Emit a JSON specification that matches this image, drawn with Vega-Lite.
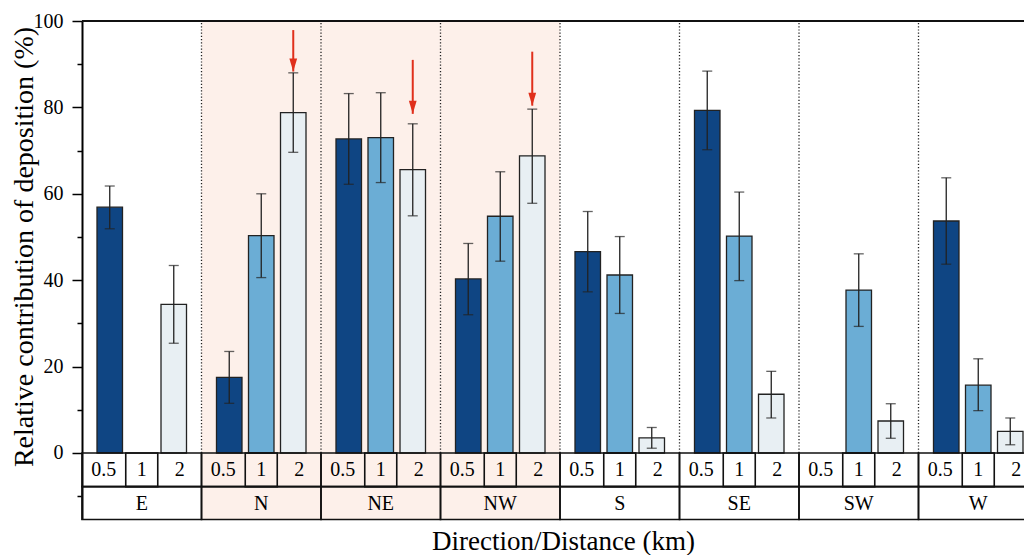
{
  "$schema": "https://vega.github.io/schema/vega-lite/v6.json",
  "width": 942,
  "height": 498.5,
  "autosize": {"type": "none"},
  "padding": {"left": 82, "top": 21, "right": 0, "bottom": 35.5},
  "background": "white",
  "view": {"stroke": null},
  "config": {"font": "Liberation Serif"},
  "datasets": {
    "bars": [
      {"direction": "E", "distance": "0.5", "value": 56.9, "lower": 51.9, "upper": 61.8},
      {"direction": "E", "distance": "1", "value": null, "lower": null, "upper": null},
      {"direction": "E", "distance": "2", "value": 34.4, "lower": 25.4, "upper": 43.4},
      {"direction": "N", "distance": "0.5", "value": 17.5, "lower": 11.5, "upper": 23.5},
      {"direction": "N", "distance": "1", "value": 50.3, "lower": 40.6, "upper": 60.0},
      {"direction": "N", "distance": "2", "value": 78.8, "lower": 69.6, "upper": 88.0},
      {"direction": "NE", "distance": "0.5", "value": 72.7, "lower": 62.2, "upper": 83.2},
      {"direction": "NE", "distance": "1", "value": 73.0, "lower": 62.6, "upper": 83.4},
      {"direction": "NE", "distance": "2", "value": 65.6, "lower": 54.9, "upper": 76.2},
      {"direction": "NW", "distance": "0.5", "value": 40.3, "lower": 32.0, "upper": 48.5},
      {"direction": "NW", "distance": "1", "value": 54.8, "lower": 44.4, "upper": 65.1},
      {"direction": "NW", "distance": "2", "value": 68.8, "lower": 57.8, "upper": 79.6},
      {"direction": "S", "distance": "0.5", "value": 46.6, "lower": 37.3, "upper": 55.9},
      {"direction": "S", "distance": "1", "value": 41.2, "lower": 32.3, "upper": 50.1},
      {"direction": "S", "distance": "2", "value": 3.5, "lower": 1.1, "upper": 5.9},
      {"direction": "SE", "distance": "0.5", "value": 79.3, "lower": 70.2, "upper": 88.4},
      {"direction": "SE", "distance": "1", "value": 50.2, "lower": 39.9, "upper": 60.4},
      {"direction": "SE", "distance": "2", "value": 13.6, "lower": 8.1, "upper": 18.9},
      {"direction": "SW", "distance": "0.5", "value": null, "lower": null, "upper": null},
      {"direction": "SW", "distance": "1", "value": 37.7, "lower": 29.3, "upper": 46.1},
      {"direction": "SW", "distance": "2", "value": 7.4, "lower": 3.4, "upper": 11.4},
      {"direction": "W", "distance": "0.5", "value": 53.7, "lower": 43.7, "upper": 63.7},
      {"direction": "W", "distance": "1", "value": 15.7, "lower": 9.8, "upper": 21.8},
      {"direction": "W", "distance": "2", "value": 5.0, "lower": 1.9, "upper": 8.1}
    ],
    "groups": [
      {"direction": "E", "shaded": false},
      {"direction": "N", "shaded": true},
      {"direction": "NE", "shaded": true},
      {"direction": "NW", "shaded": true},
      {"direction": "S", "shaded": false},
      {"direction": "SE", "shaded": false},
      {"direction": "SW", "shaded": false},
      {"direction": "W", "shaded": false}
    ],
    "arrows": [
      {"direction": "N", "distance": "2", "from": 97.9, "tip": 88.3},
      {"direction": "NE", "distance": "2", "from": 91.0, "tip": 78.5},
      {"direction": "NW", "distance": "2", "from": 92.9, "tip": 80.4}
    ]
  },
  "layer": [
    {
      "data": {"name": "groups"},
      "transform": [{"filter": "datum.shaded"}],
      "mark": {"type": "rect", "fill": "#fdf0ea"},
      "encoding": {
        "x": {
          "field": "direction", "type": "nominal",
          "scale": {"domain": ["E", "N", "NE", "NW", "S", "SE", "SW", "W"], "range": [0, 956], "paddingInner": 0, "paddingOuter": 0},
          "axis": {"title": "Direction/Distance (km)", "labels": false, "ticks": false, "domain": false, "grid": false,
                   "titleFontSize": 27, "titleFontWeight": "normal", "titleColor": "black", "titleFont": "Liberation Serif",
                   "titleX": 481, "titleY": 30, "titleBaseline": "alphabetic", "titleAlign": "center"}
        },
        "y": {
          "datum": -15.4, "type": "quantitative",
          "scale": {"domain": [-15.4, 100], "nice": false, "zero": false},
          "axis": {
            "title": "Relative contribution of deposition (%)",
            "values": [-10, 0, 10, 20, 30, 40, 50, 60, 70, 80, 90, 100],
            "labelExpr": "datum.value >= 0 && datum.value % 20 === 0 ? datum.label : ''",
            "tickSize": {"condition": {"test": "datum.value % 20 === 0", "value": 10}, "value": 5},
            "tickWidth": 1.5, "tickColor": "black",
            "domainColor": "black", "domainWidth": 2,
            "labelFontSize": 20, "labelColor": "black", "labelFont": "Liberation Serif", "labelPadding": 9,
            "grid": false,
            "titleFontSize": 28, "titleFontWeight": "normal", "titleColor": "black", "titleFont": "Liberation Serif",
            "titleX": -49.5, "titleY": 225.5, "titleBaseline": "alphabetic", "titleAlign": "center", "titleAngle": 270
          }
        },
        "y2": {"datum": 100}
      }
    },
    {
      "data": {"name": "groups"},
      "transform": [{"filter": "datum.direction != 'E'"}],
      "mark": {"type": "rule", "strokeDash": [1.2, 2], "color": "#222", "strokeWidth": 1.3},
      "encoding": {
        "x": {"field": "direction", "type": "nominal", "bandPosition": 0},
        "y": {"datum": 0, "type": "quantitative"},
        "y2": {"datum": 100}
      }
    },
    {
      "data": {"name": "groups"},
      "transform": [{"filter": "datum.direction == 'E'"}],
      "mark": {"type": "rule", "color": "#111", "strokeWidth": 2},
      "encoding": {"y": {"datum": 100, "type": "quantitative"}}
    },
    {
      "data": {"name": "bars"},
      "transform": [{"filter": "isValid(datum.value)"}],
      "mark": {"type": "bar", "width": 25.5, "stroke": "#222", "strokeWidth": 1.3},
      "encoding": {
        "x": {"field": "direction", "type": "nominal"},
        "xOffset": {"field": "distance", "type": "nominal", "scale": {"domain": ["0.5", "1", "2"], "paddingInner": 0, "paddingOuter": 0.367}},
        "y": {"field": "value", "type": "quantitative"},
        "y2": {"datum": 0},
        "color": {"field": "distance", "type": "nominal", "scale": {"domain": ["0.5", "1", "2"], "range": ["#0f4583", "#6badd5", "#e8eff3"]}, "legend": null}
      }
    },
    {
      "data": {"name": "bars"},
      "transform": [{"filter": "isValid(datum.value)"}],
      "mark": {"type": "rule", "color": "#222", "strokeWidth": 1.3},
      "encoding": {
        "x": {"field": "direction", "type": "nominal"},
        "xOffset": {"field": "distance", "type": "nominal"},
        "y": {"field": "lower", "type": "quantitative"},
        "y2": {"field": "upper"}
      }
    },
    {
      "data": {"name": "bars"},
      "transform": [{"filter": "isValid(datum.value)"}],
      "mark": {"type": "tick", "color": "#222", "thickness": 1.3, "size": 10, "orient": "horizontal"},
      "encoding": {
        "x": {"field": "direction", "type": "nominal"},
        "xOffset": {"field": "distance", "type": "nominal"},
        "y": {"field": "lower", "type": "quantitative"}
      }
    },
    {
      "data": {"name": "bars"},
      "transform": [{"filter": "isValid(datum.value)"}],
      "mark": {"type": "tick", "color": "#222", "thickness": 1.3, "size": 10, "orient": "horizontal"},
      "encoding": {
        "x": {"field": "direction", "type": "nominal"},
        "xOffset": {"field": "distance", "type": "nominal"},
        "y": {"field": "upper", "type": "quantitative"}
      }
    },
    {
      "data": {"name": "arrows"},
      "mark": {"type": "rule", "color": "#e0301c", "strokeWidth": 2},
      "encoding": {
        "x": {"field": "direction", "type": "nominal"},
        "xOffset": {"field": "distance", "type": "nominal"},
        "y": {"field": "from", "type": "quantitative"},
        "y2": {"field": "tip"}
      }
    },
    {
      "data": {"name": "arrows"},
      "mark": {"type": "point", "filled": true, "shape": "M-0.6,-2L0.6,-2L0,0Z", "size": 169, "color": "#e0301c", "opacity": 1, "strokeWidth": 0},
      "encoding": {
        "x": {"field": "direction", "type": "nominal"},
        "xOffset": {"field": "distance", "type": "nominal"},
        "y": {"field": "tip", "type": "quantitative"}
      }
    },
    {
      "data": {"name": "groups"},
      "mark": {"type": "rect", "fillOpacity": 0, "stroke": "#111", "strokeWidth": 1.6},
      "encoding": {
        "x": {"field": "direction", "type": "nominal"},
        "y": {"datum": 0, "type": "quantitative"},
        "y2": {"datum": -7.8}
      }
    },
    {
      "data": {"name": "groups"},
      "mark": {"type": "rect", "fillOpacity": 0, "stroke": "#111", "strokeWidth": 1.6},
      "encoding": {
        "x": {"field": "direction", "type": "nominal"},
        "y": {"datum": -7.8, "type": "quantitative"},
        "y2": {"datum": -15.4}
      }
    },
    {
      "data": {"name": "bars"},
      "transform": [{"filter": "datum.distance == '1'"}],
      "mark": {"type": "rect", "fillOpacity": 0, "stroke": "#111", "strokeWidth": 1.6},
      "encoding": {
        "x": {"field": "direction", "type": "nominal"},
        "xOffset": {"field": "distance", "type": "nominal"},
        "y": {"datum": 0, "type": "quantitative"},
        "y2": {"datum": -7.8}
      }
    },
    {
      "data": {"name": "bars"},
      "transform": [{"filter": "datum.distance == '0.5'"}],
      "mark": {"type": "text", "fontSize": 20, "baseline": "middle", "align": "center", "dx": -6, "color": "black"},
      "encoding": {
        "x": {"field": "direction", "type": "nominal"},
        "xOffset": {"field": "distance", "type": "nominal"},
        "y": {"datum": -4.0, "type": "quantitative"},
        "text": {"field": "distance"}
      }
    },
    {
      "data": {"name": "bars"},
      "transform": [{"filter": "datum.distance == '1'"}],
      "mark": {"type": "text", "fontSize": 20, "baseline": "middle", "align": "center", "color": "black"},
      "encoding": {
        "x": {"field": "direction", "type": "nominal"},
        "xOffset": {"field": "distance", "type": "nominal"},
        "y": {"datum": -4.0, "type": "quantitative"},
        "text": {"field": "distance"}
      }
    },
    {
      "data": {"name": "bars"},
      "transform": [{"filter": "datum.distance == '2'"}],
      "mark": {"type": "text", "fontSize": 20, "baseline": "middle", "align": "center", "dx": 6, "color": "black"},
      "encoding": {
        "x": {"field": "direction", "type": "nominal"},
        "xOffset": {"field": "distance", "type": "nominal"},
        "y": {"datum": -4.0, "type": "quantitative"},
        "text": {"field": "distance"}
      }
    },
    {
      "data": {"name": "groups"},
      "mark": {"type": "text", "fontSize": 20, "baseline": "middle", "align": "center", "color": "black"},
      "encoding": {
        "x": {"field": "direction", "type": "nominal"},
        "y": {"datum": -11.8, "type": "quantitative"},
        "text": {"field": "direction"}
      }
    }
  ]
}
